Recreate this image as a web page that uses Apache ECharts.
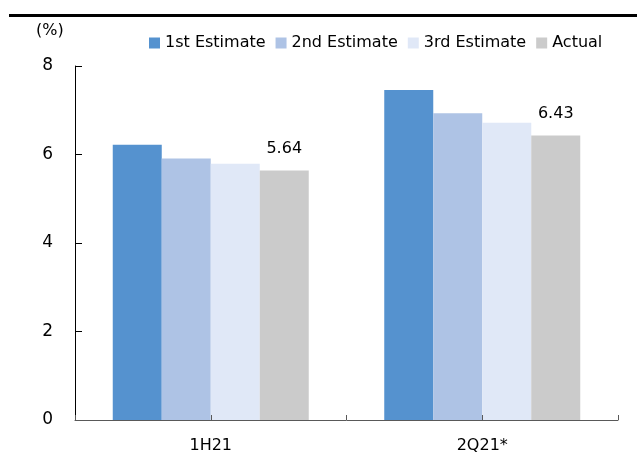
<!DOCTYPE html>
<html>
<head>
<meta charset="utf-8">
<script src="https://cdn.jsdelivr.net/npm/echarts@6/dist/echarts.min.js"></script>
<style>
  html, body { margin: 0; padding: 0; background: #fff; }
  #chart { width: 637px; height: 454px; }
</style>
</head>
<body>
<div id="chart"></div>
<script>
// 数据
const categories = ['1H21', '2Q21*']
const seriesNames = ['1st Estimate', '2nd Estimate', '3rd Estimate', 'Actual']
const firstEst = [6.22, 7.46]
const secondEst = [5.91, 6.93]
const thirdEst = [5.79, 6.72]
const actual = [5.64, 6.43]
const yTicks = [0, 2, 4, 6, 8]

const colors = ['#5592CF', '#AEC3E5', '#E0E8F7', '#CBCBCB']
const font = 'DejaVu Sans'

const chart = echarts.init(document.getElementById('chart'))

const bar = (name, data, i) => ({
  name, type: 'bar', data, barWidth: 49, barGap: '0%',
  itemStyle: { color: colors[i] },
  emphasis: { disabled: true },
})

const actualSeries = bar(seriesNames[3], actual, 3)
actualSeries.label = {
  show: true, position: 'top', distance: 14,
  fontFamily: font, fontSize: 16, color: '#000',
  formatter: p => p.value.toFixed(2),
}

chart.setOption({
  animation: false,
  graphic: [
    { type: 'rect', shape: { x: 9, y: 14, width: 628, height: 3 }, style: { fill: '#000' } },
    { type: 'text', left: 36, top: 23, style: { text: '(%)', font: '16px ' + font, fill: '#000' } },
  ],
  legend: {
    left: 144, top: 30, itemWidth: 11, itemHeight: 11, itemGap: 10,
    icon: 'rect',
    textStyle: { fontFamily: font, fontSize: 16, color: '#000' },
    data: seriesNames,
  },
  grid: { left: 75, right: 19, top: 66, bottom: 33 },
  xAxis: [
    {
      type: 'category', data: categories, z: 3,
      axisLine: { lineStyle: { color: '#595959', width: 1 } },
      axisTick: { show: true, inside: true, length: 5, alignWithLabel: false, lineStyle: { color: '#595959' } },
      axisLabel: { fontFamily: font, fontSize: 16, color: '#000', margin: 18 },
    },
    {
      type: 'category', data: ['', '', '', ''], position: 'bottom', z: 3,
      axisLine: { show: false },
      axisTick: { show: true, inside: true, length: 5, lineStyle: { color: '#595959' } },
      axisLabel: { show: false },
    },
  ],
  yAxis: {
    type: 'value', min: yTicks[0], max: yTicks[yTicks.length - 1], interval: 2,
    axisLine: { show: true, lineStyle: { color: '#000' } },
    axisTick: { show: true, inside: true, length: 7, lineStyle: { color: '#000' } },
    axisLabel: { fontFamily: font, fontSize: 17, color: '#000', margin: 22 },
    splitLine: { show: false },
  },
  series: [
    bar(seriesNames[0], firstEst, 0),
    bar(seriesNames[1], secondEst, 1),
    bar(seriesNames[2], thirdEst, 2),
    actualSeries,
  ],
})
</script>
</body>
</html>
